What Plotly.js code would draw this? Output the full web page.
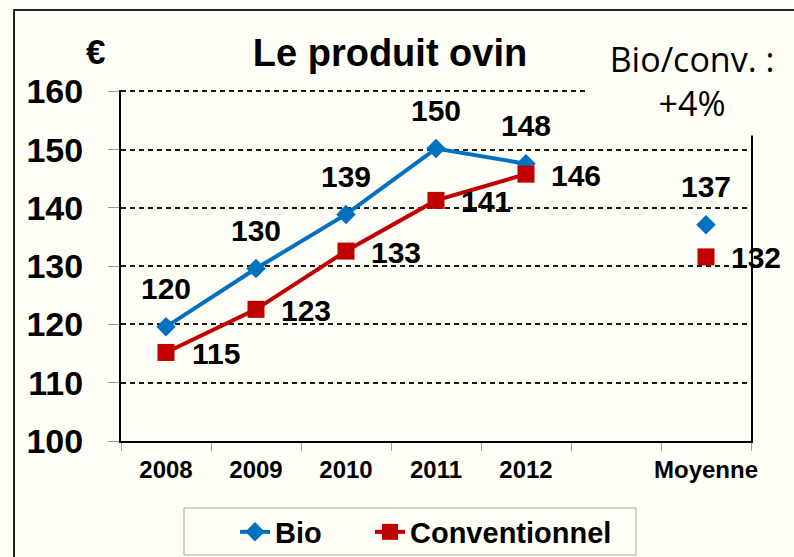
<!DOCTYPE html>
<html>
<head>
<meta charset="utf-8">
<script src="https://cdn.plot.ly/plotly-3.0.1.min.js"></script>
<style>html,body{margin:0;padding:0;background:#FEFEF6;}</style>
</head>
<body>
<div id="chart" style="width:794px;height:557px;"></div>
<script>
const categories = ['2008', '2009', '2010', '2011', '2012', ' ', 'Moyenne'];
const bioValues = [119.6, 129.6, 138.9, 150.2, 147.6, null, 137.1];
const convValues = [115.2, 122.6, 132.6, 141.3, 145.8, null, 131.6];
const yTickValues = [100, 110, 120, 130, 140, 150, 160];
const seriesNames = ['Bio', 'Conventionnel'];
const titleText = 'Le produit ovin';
const unitText = '€';
const ratioText = 'Bio/conv. :<br>+4%';

const BG = '#FEFEF6';
const FONT = 'Liberation Sans, Arial, sans-serif';
const BLUE = '#0070C0';
const RED = '#C00000';

const traces = [
  {
    x: categories, y: bioValues, name: seriesNames[0], type: 'scatter', mode: 'lines+markers',
    connectgaps: false, legend: 'legend',
    line: {color: BLUE, width: 4},
    marker: {symbol: 'diamond', size: 15, color: BLUE},
    hoverinfo: 'skip'
  },
  {
    x: categories, y: convValues, name: seriesNames[1], type: 'scatter', mode: 'lines+markers',
    connectgaps: false, legend: 'legend2',
    line: {color: RED, width: 4},
    marker: {symbol: 'square', size: 17, color: RED},
    hoverinfo: 'skip'
  }
];

const labelFont = {family: FONT, size: 30, color: '#000', weight: 'bold'};
const annotations = [];
categories.forEach((c, i) => {
  if (bioValues[i] !== null) {
    annotations.push({x: i, y: bioValues[i], xref: 'x', yref: 'y', text: String(Math.round(bioValues[i])),
      showarrow: false, yshift: 38, font: labelFont});
  }
  if (convValues[i] !== null) {
    annotations.push({x: i, y: convValues[i], xref: 'x', yref: 'y', text: String(Math.round(convValues[i])),
      showarrow: false, xshift: 50, yshift: -1, font: labelFont});
  }
});
annotations.push({
  text: unitText, xref: 'paper', yref: 'paper', x: -0.041, y: 1.11, xanchor: 'center', yanchor: 'middle',
  showarrow: false, font: {family: FONT, size: 35, color: '#000', weight: 'bold'}
});
annotations.push({
  text: ratioText, xref: 'paper', yref: 'paper', x: 0.907, y: 1.026, xanchor: 'center', yanchor: 'middle',
  showarrow: false, width: 204, height: 106, bgcolor: BG, align: 'center', valign: 'middle',
  font: {family: 'Open Sans, sans-serif', size: 34, color: '#000'}
});

const legendFont = {family: FONT, size: 29, color: '#000', weight: 'bold'};

const layout = {
  width: 794, height: 557,
  margin: {l: 121, r: 43, t: 90, b: 116, pad: 0, autoexpand: false},
  paper_bgcolor: BG, plot_bgcolor: BG,
  showlegend: true,
  title: {
    text: titleText, x: 0.427, xanchor: 'center', y: 0.906, yanchor: 'middle', xref: 'paper',
    font: {family: FONT, size: 38, color: '#000', weight: 'bold'}
  },
  xaxis: {
    type: 'category', categoryorder: 'array', categoryarray: categories,
    range: [-0.5, 6.5], fixedrange: true, automargin: false, tickangle: 0,
    tickson: 'boundaries', ticks: 'outside', ticklen: 8, tickcolor: '#9a9a9a', tickwidth: 1,
    ticklabelstandoff: 6,
    showline: true, linecolor: '#000', linewidth: 2,
    showgrid: false, zeroline: false,
    tickfont: {family: FONT, size: 24, color: '#000', weight: 'bold'}
  },
  yaxis: {
    range: [100, 160.25], tickvals: yTickValues, ticktext: yTickValues.map(String), fixedrange: true,
    automargin: false,
    ticks: 'outside', ticklen: 11, tickcolor: '#9a9a9a', tickwidth: 1, ticklabelstandoff: 18,
    showline: true, linecolor: '#000', linewidth: 2, mirror: true,
    showgrid: true, gridcolor: '#1a1a1a', gridwidth: 2, griddash: '5px,4px',
    zeroline: false,
    tickfont: {family: FONT, size: 34, color: '#000', weight: 'bold'}
  },
  legend: {
    orientation: 'h', x: (235 - 121) / 630, xanchor: 'left', y: (441 - 532) / 351, yanchor: 'middle',
    bgcolor: 'rgba(0,0,0,0)', borderwidth: 0, font: legendFont,
    itemclick: false, itemdoubleclick: false
  },
  legend2: {
    orientation: 'h', x: (370 - 121) / 630, xanchor: 'left', y: (441 - 532) / 351, yanchor: 'middle',
    bgcolor: 'rgba(0,0,0,0)', borderwidth: 0, font: legendFont,
    itemclick: false, itemdoubleclick: false
  },
  shapes: [
    {type: 'rect', xref: 'paper', yref: 'paper', x0: -0.1698, x1: 1.1, y0: -0.4, y1: (441 - 10) / 351,
      line: {color: '#222', width: 2}, fillcolor: 'rgba(0,0,0,0)', layer: 'above'},
    {type: 'rect', xref: 'paper', yref: 'paper', x0: (184 - 121) / 630, x1: (636 - 121) / 630,
      y0: (441 - 555) / 351, y1: (441 - 508) / 351,
      line: {color: '#A6A6A6', width: 1}, fillcolor: 'rgba(0,0,0,0)', layer: 'below'}
  ],
  annotations: annotations
};

Plotly.newPlot('chart', traces, layout, {displayModeBar: false, staticPlot: true});
</script>
</body>
</html>
